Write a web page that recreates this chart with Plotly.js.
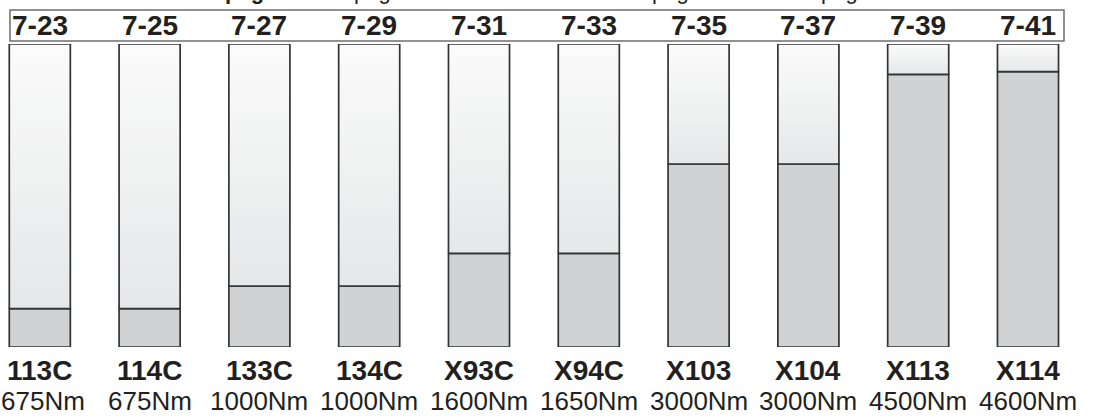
<!DOCTYPE html>
<html>
<head>
<meta charset="utf-8">
<script src="https://cdn.plot.ly/plotly-3.0.1.min.js"></script>
<style>
  html, body { margin: 0; padding: 0; background: #ffffff; }
  #chart { width: 1102px; height: 419px; }
</style>
</head>
<body>
<div id="chart"></div>
<script>
// ---- data ----
const pages = ['7-23', '7-25', '7-27', '7-29', '7-31', '7-33', '7-35', '7-37', '7-39', '7-41'];
const models = ['113C', '114C', '133C', '134C', 'X93C', 'X94C', 'X103', 'X104', 'X113', 'X114'];
const torqueLabels = ['675Nm', '675Nm', '1000Nm', '1000Nm', '1600Nm', '1650Nm', '3000Nm', '3000Nm', '4500Nm', '4600Nm'];
const fillLevel = [632, 632, 1007, 1007, 1546, 1546, 3020, 3020, 4500, 4543];
const scaleMax = 5000;
const topWords = ['<b>page</b>', 'page', 'page', 'page'];

// ---- styles ----
const barW = 0.556;
const outline = '#333335';
const font = 'Liberation Sans, Arial, sans-serif';
const idx = models.map((_, i) => i);

const traces = [];
// lower (filled) part as bars
traces.push({
  type: 'bar',
  x: idx,
  y: fillLevel,
  width: barW,
  marker: { color: '#d1d2d4', line: { color: outline, width: 1.7 } },
  hoverinfo: 'skip',
  showlegend: false
});
// upper (empty) part with vertical gradient, one per bar
idx.forEach(i => {
  const x0 = i - barW / 2, x1 = i + barW / 2;
  traces.push({
    type: 'scatter',
    mode: 'lines',
    x: [x0, x1, x1, x0, x0],
    y: [fillLevel[i], fillLevel[i], scaleMax, scaleMax, fillLevel[i]],
    fill: 'toself',
    fillgradient: { type: 'vertical', colorscale: [[0, '#e6e7e8'], [1, '#fbfbfb']] },
    line: { color: outline, width: 1.7 },
    hoverinfo: 'skip',
    showlegend: false
  });
});

const plotTop = 44, plotBottom = 347, H = 419, W = 1102;
const pyToPaper = p => (plotBottom - p) / (plotBottom - plotTop);

const annotations = [];
idx.forEach(i => {
  annotations.push({
    x: i, xref: 'x', y: pyToPaper(26), yref: 'paper', yanchor: 'middle', xanchor: 'center',
    text: '<b>' + pages[i] + '</b>', showarrow: false,
    font: { family: font, size: 28, color: '#231f20' }
  });
  annotations.push({
    x: i, xref: 'x', y: pyToPaper(370), yref: 'paper', yanchor: 'middle', xanchor: 'center',
    text: '<b>' + models[i] + '</b>', showarrow: false,
    font: { family: font, size: 28, color: '#231f20' }
  });
  annotations.push({
    x: i, xref: 'x', y: pyToPaper(401), yref: 'paper', yanchor: 'middle', xanchor: 'center',
    text: torqueLabels[i], showarrow: false, xshift: i === 0 ? 3 : 0,
    font: { family: font, size: 26, color: '#231f20' }
  });
});
// partially visible text at the very top
const topWordX = [250, 378, 676, 845];
topWords.forEach((t, k) => {
  annotations.push({
    x: topWordX[k] / W, xref: 'paper', y: pyToPaper(-9), yref: 'paper', yanchor: 'middle', xanchor: 'center',
    text: t, showarrow: false,
    font: { family: font, size: 22, color: '#231f20' }
  });
});

const layout = {
  width: W, height: H,
  margin: { l: 0, r: 0, t: plotTop, b: H - plotBottom, pad: 0 },
  paper_bgcolor: '#ffffff', plot_bgcolor: '#ffffff',
  xaxis: { range: [-0.3625, 9.674], visible: false, fixedrange: true },
  yaxis: { range: [0, scaleMax], visible: false, fixedrange: true },
  showlegend: false,
  annotations: annotations,
  shapes: [{
    type: 'rect', xref: 'paper', yref: 'paper',
    x0: 10 / W, x1: 1064 / W, y0: pyToPaper(41), y1: pyToPaper(10),
    line: { color: '#6d6e70', width: 1.5 }, fillcolor: 'rgba(0,0,0,0)', layer: 'below'
  }]
};

Plotly.newPlot('chart', traces, layout, { staticPlot: true, displayModeBar: false });
</script>
</body>
</html>
